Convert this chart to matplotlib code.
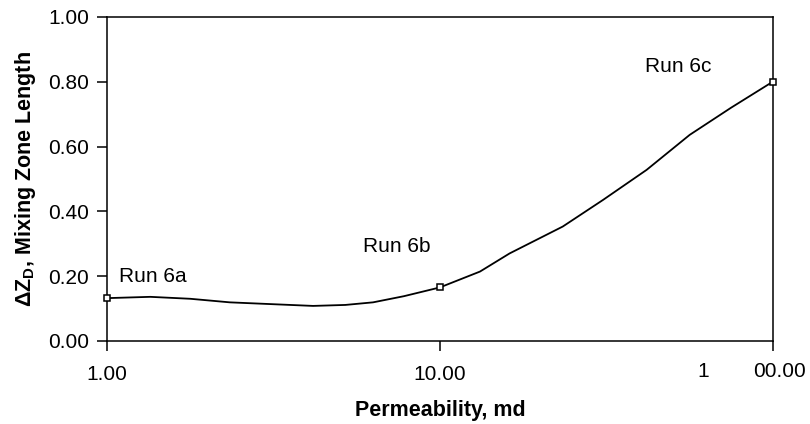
import matplotlib
matplotlib.use('Agg')
import matplotlib.pyplot as plt

plt.rcParams['font.family'] = ['Liberation Sans', 'DejaVu Sans']
plt.rcParams['mathtext.fontset'] = 'custom'
plt.rcParams['mathtext.bf'] = 'Liberation Sans:bold'
plt.rcParams['mathtext.rm'] = 'Liberation Sans'

# smoothed curve
perm = [1.0, 1.35, 1.78, 2.34, 3.2, 4.16, 5.2, 6.3, 7.8, 10.0,
        13.2, 16.2, 23.4, 30.9, 41.8, 56.3, 75.0, 100.0]
mix_len = [0.132, 0.136, 0.130, 0.119, 0.113, 0.108, 0.111, 0.119, 0.138, 0.165,
           0.214, 0.27, 0.353, 0.435, 0.528, 0.636, 0.72, 0.80]

# the three runs (markers)
run_perm = [1.0, 10.0, 100.0]
run_len = [0.132, 0.165, 0.80]
run_names = ['Run 6a', 'Run 6b', 'Run 6c']
label_pos = [(1.086, 0.198), (5.87, 0.29), (41.3, 0.846)]

fig = plt.figure(figsize=(8.1, 4.24), dpi=100)
ax = fig.add_axes([0.132, 0.196, 0.822, 0.764])

ax.plot(perm, mix_len, color='black', lw=1.3)
ax.plot(run_perm, run_len, ls='none', marker='s', ms=4.5, mfc='white',
        mec='black', mew=1.1, clip_on=False, zorder=5)

for name, (x, y) in zip(run_names, label_pos):
    ax.text(x, y, name, fontsize=15, va='center', ha='left')

ax.set_xscale('log')
ax.set_xlim(1, 100)
ax.set_ylim(0, 1)
ax.set_xticks([1, 10, 100])
ax.set_xticklabels(['1.00', '10.00', ''])
ax.xaxis.set_minor_locator(matplotlib.ticker.NullLocator())
ax.set_yticks([0, 0.2, 0.4, 0.6, 0.8, 1.0])
ax.set_yticklabels(['0.00', '0.20', '0.40', '0.60', '0.80', '1.00'])
ax.tick_params(direction='out', length=7, width=1.1, labelsize=15, pad=6)
ax.tick_params(axis='x', pad=10)

# the odd split label at 100
ax.text(0.895, -0.096, '1', transform=ax.transAxes, fontsize=15,
        ha='center', va='center')
ax.text(0.970, -0.096, '00.00', transform=ax.transAxes, fontsize=15,
        ha='left', va='center')

for s in ax.spines.values():
    s.set_linewidth(1.1)

ax.set_xlabel('Permeability, md', fontsize=15.5, fontweight='bold', labelpad=12)
ax.set_ylabel(r'ΔZ$_\mathbf{D}$, Mixing Zone Length', fontsize=15.5,
              fontweight='bold', labelpad=7)

fig.savefig('out.png', dpi=100)
